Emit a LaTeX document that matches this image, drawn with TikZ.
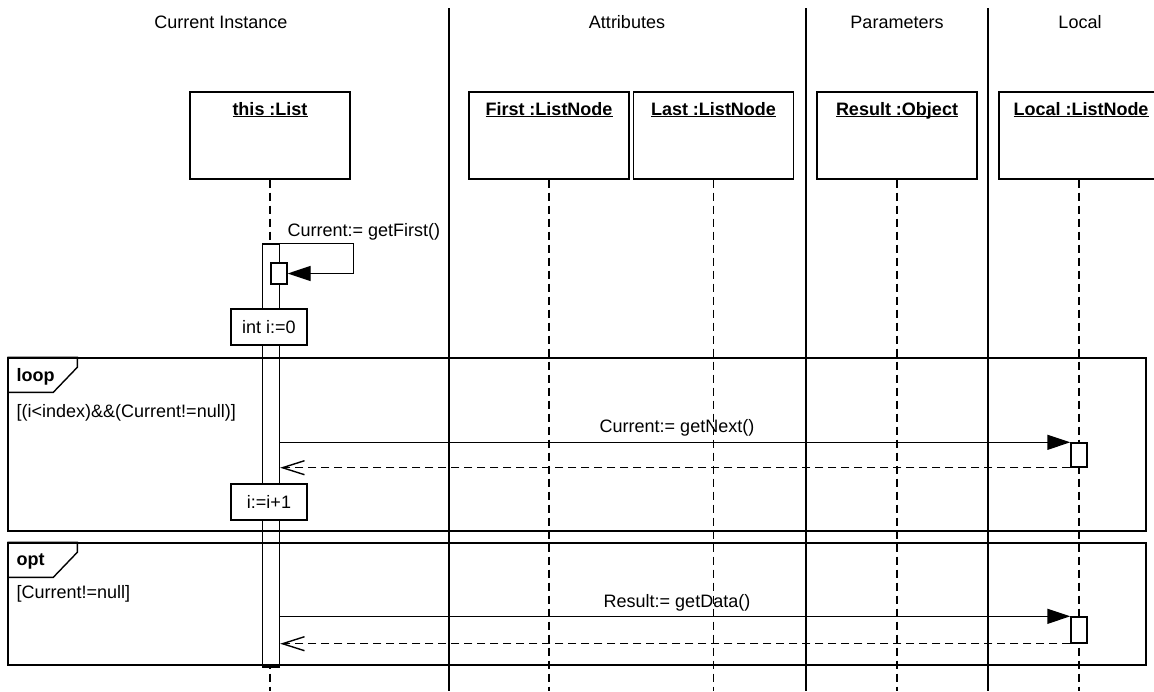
\documentclass[tikz,border=0pt]{standalone}
\usepackage{fontspec}
\setmainfont{Liberation Sans}
\usetikzlibrary{arrows.meta}

\begin{document}
\begin{tikzpicture}[x=1pt, y=-1pt, line width=1.4pt,
		every node/.style={font=\fontsize{18}{21}\selectfont, inner sep=0pt},
		objbox/.style={draw, fill=white, minimum width=160pt, minimum height=87pt},
		objname/.style={font=\fontsize{18}{21}\selectfont\bfseries},
		actbox/.style={draw, fill=white, minimum width=16pt},
		notebox/.style={draw, fill=white, minimum width=76pt, minimum height=36pt},
		framebox/.style={draw, minimum width=1138pt},
		framename/.style={font=\fontsize{18}{21}\selectfont\bfseries, anchor=west},
		lifeline/.style={dash pattern=on 8pt off 5pt},
		msg/.style={-{Triangle[length=23pt,width=15pt]}},
		ret/.style={dash pattern=on 8pt off 5pt, -{Straight Barb[length=22pt,width=14pt]}}]
		
		\useasboundingbox (0,0) rectangle (1154,691);
		\clip (0,0) rectangle (1154,691);
		\coordinate (bot) at (0,691);
		
		% Intestazioni e separatori
		\node (hCur) at (221,22) {Current Instance};
		\node (hAtt) at (627,22) {Attributes};
		\node (hPar) at (897,22) {Parameters};
		\node (hLoc) at (1080,22) {Local};
		\coordinate (s1) at (449,8);
		\coordinate (s2) at (806,8);
		\coordinate (s3) at (988,8);
		\draw (s1) -- (s1 |- bot);
		\draw (s2) -- (s2 |- bot);
		\draw (s3) -- (s3 |- bot);
		
		% Oggetti e linee di vita
		\node[objbox] (this) at (270,135.5) {};
		\node[objname] (thisN) at (270,116) {\underline{\smash{this :List}}};
		\node[objbox] (first) at (549,135.5) {};
		\node[objname] (firstN) at (549,116) {\underline{\smash{First :ListNode}}};
		\node[objbox] (last) at (713.5,135.5) {};
		\node[objname] (lastN) at (713.5,116) {\underline{\smash{Last :ListNode}}};
		\node[objbox] (result) at (897,135.5) {};
		\node[objname] (resultN) at (897,116) {\underline{\smash{Result :Object}}};
		\node[objbox] (local) at (1079,135.5) {};
		\node[objname] (localN) at (1081,116) {\underline{\smash{Local :ListNode}}};
		\draw[lifeline] (this.south) -- (this.south |- bot);
		\draw[lifeline] (first.south) -- (first.south |- bot);
		\draw[lifeline] (last.south) -- (last.south |- bot);
		\draw[lifeline] (result.south) -- (result.south |- bot);
		\draw[lifeline] (local.south) -- (local.south |- bot);
		
		% Attivazioni
		\node[actbox, minimum width=17pt, minimum height=423pt] (act) at (271,455.5) {};
		\node[actbox, minimum height=21pt] (act2) at (279,273.5) {};
		\node[actbox, minimum height=24pt] (la1) at (1079,455) {};
		\node[actbox, minimum height=26pt] (la2) at (1079,630) {};
		
		% Messaggio su se stesso
		\draw[msg] (act.north east) -- ++(73,0) |- (act2.east);
		\node[anchor=west] (mFirst) at (287,232) {Current:= getFirst()};
		\node[notebox] (init) at (269,327) {int i:=0};
		
		% Messaggi verso Local
		\draw[msg] (act.east |- la1.north west) -- (la1.north west);
		\draw[ret] (la1.south west) -- (act.east |- la1.south west);
		\node (mNext) at (677,428) {Current:= getNext()};
		\node[notebox] (incr) at (269,502) {i:=i+1};
		\draw[msg] (act.east |- la2.north west) -- (la2.north west);
		\draw[ret] (la2.south west) -- (act.east |- la2.south west);
		\node (mData) at (677,603) {Result:= getData()};
		
		% Frammenti combinati
		\node[framebox, minimum height=173pt] (loopF) at (577,444.5) {};
		\draw (loopF.north west) -- ++(70,0) -- ++(0,10) -- ++(-24,25) -- ++(-46,0);
		\node[framename] (loopN) at (16,377) {loop};
		\node[anchor=west] (loopG) at (16,413) {[(i<index)\&\&(Current!=null)]};
		\node[framebox, minimum height=122pt] (optF) at (577,604) {};
		\draw (optF.north west) -- ++(70,0) -- ++(0,10) -- ++(-24,25) -- ++(-46,0);
		\node[framename] (optN) at (16,561) {opt};
		\node[anchor=west] (optG) at (16,594) {[Current!=null]};
		
	\end{tikzpicture}
\end{document}
